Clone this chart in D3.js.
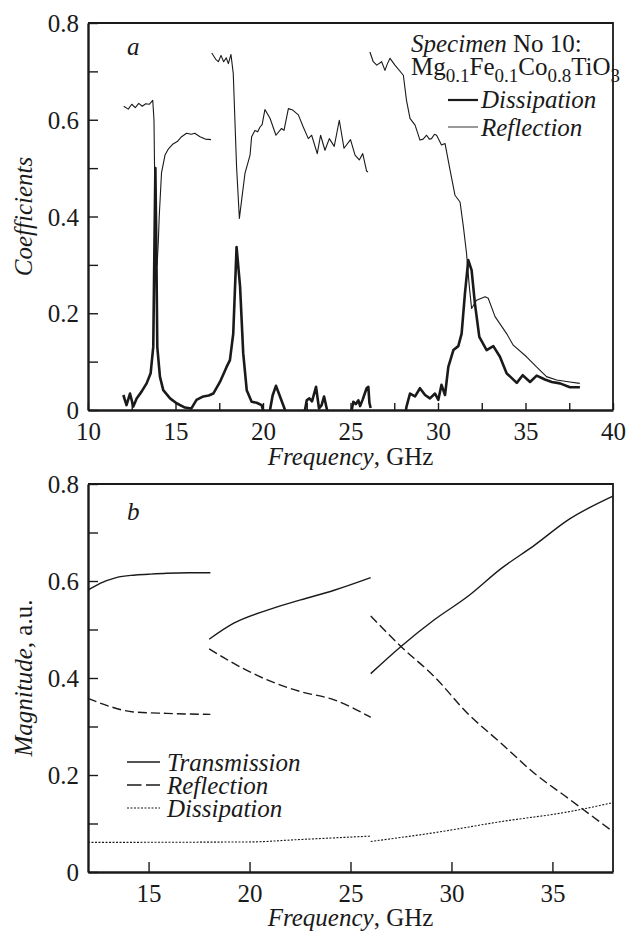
<!DOCTYPE html>
<html>
<head>
<meta charset="utf-8">
<title>Specimen No 10</title>
<script src="https://cdnjs.cloudflare.com/ajax/libs/d3/7.8.5/d3.min.js"></script>
<style>
  body { margin: 0; background: #fff; }
  svg, svg text { font-family: "Liberation Serif", "Times New Roman", Times, "DejaVu Serif", serif; }
  svg text { fill: #1a1a1a; }
</style>
</head>
<body>
<div id="chart"></div>
<script>
// ---- panel a: measured coefficients, [GHz, value] ----
const dissA1 = [[12.02,0.031],[12.2,0.01],[12.4,0.034],[12.59,0.007],[12.78,0.024],[13.06,0.038],[13.35,0.055],[13.58,0.076],[13.73,0.131],[13.8,0.35],[13.85,0.5],[13.9,0.35],[13.96,0.13],[14.11,0.069],[14.3,0.041],[14.69,0.024],[15.06,0.014],[15.54,0.005],[15.9,0.003],[16.2,0.021],[16.59,0.028],[16.9,0.03],[17.16,0.034],[17.54,0.058],[17.92,0.089],[18.11,0.103],[18.3,0.158],[18.49,0.337],[18.69,0.255],[18.87,0.117],[19.07,0.041],[19.35,0.017],[19.64,0.015],[19.92,0.01],[20.0,0]];
const dissA2 = [[20.4,0],[20.55,0.03],[20.74,0.05],[20.95,0.03],[21.26,0]];
const dissA3 = [[22.4,0],[22.5,0.02],[22.65,0.024],[22.8,0.018],[23.03,0.048],[23.2,0.003],[23.35,0.01],[23.49,0.028],[23.66,0]];
const dissA4 = [[25.07,0],[25.16,0.017],[25.3,0.012],[25.45,0.02],[25.55,0.008],[25.7,0.022],[25.92,0.045],[26.02,0.048],[26.08,0.015],[26.15,0.004]];
const dissA5 = [[28.17,0],[28.2,0.007],[28.4,0.034],[28.69,0.028],[28.97,0.045],[29.26,0.031],[29.54,0.024],[29.83,0.034],[30.02,0.021],[30.2,0.052],[30.4,0.031],[30.59,0.089],[30.88,0.124],[31.16,0.132],[31.35,0.158],[31.54,0.241],[31.73,0.31],[31.92,0.289],[32.11,0.22],[32.36,0.151],[32.78,0.124],[33.16,0.132],[33.54,0.11],[33.92,0.076],[34.5,0.056],[34.84,0.072],[35.26,0.058],[35.64,0.071],[36.11,0.063],[36.5,0.058],[36.97,0.055],[37.54,0.047],[38.11,0.047]];

const reflA1 = [[12.04,0.628],[12.3,0.622],[12.5,0.632],[12.7,0.625],[12.9,0.634],[13.1,0.628],[13.3,0.633],[13.5,0.632],[13.7,0.64],[13.77,0.6],[13.82,0.45],[13.88,0.33],[13.95,0.3],[14.02,0.35],[14.07,0.4],[14.2,0.49],[14.4,0.527],[14.6,0.54],[14.86,0.55],[15.1,0.555],[15.35,0.565],[15.63,0.572],[15.9,0.57],[16.1,0.572],[16.4,0.565],[16.7,0.56],[17.03,0.559]];
const reflA2 = [[17.07,0.738],[17.3,0.725],[17.45,0.72],[17.6,0.733],[17.75,0.72],[17.9,0.728],[18.02,0.716],[18.17,0.735],[18.3,0.696],[18.49,0.503],[18.65,0.396],[18.8,0.44],[18.97,0.489],[19.26,0.527],[19.35,0.565],[19.54,0.578],[19.7,0.575],[19.83,0.585],[19.95,0.59],[20.11,0.621],[20.4,0.603],[20.74,0.568],[21.06,0.582],[21.2,0.578],[21.45,0.623],[21.7,0.62],[22.02,0.61],[22.3,0.585],[22.59,0.561],[22.78,0.568],[23.1,0.53],[23.29,0.568],[23.54,0.537],[23.79,0.561],[24.07,0.545],[24.36,0.599],[24.63,0.541],[25.0,0.559],[25.26,0.527],[25.5,0.517],[25.7,0.53],[25.92,0.494],[26.0,0.492]];
const reflA3 = [[26.11,0.74],[26.3,0.72],[26.5,0.713],[26.78,0.72],[26.97,0.702],[27.1,0.715],[27.26,0.727],[27.54,0.713],[28.02,0.692],[28.2,0.64],[28.4,0.603],[28.69,0.589],[28.97,0.558],[29.15,0.56],[29.35,0.568],[29.5,0.56],[29.63,0.561],[29.8,0.57],[29.92,0.568],[30.2,0.548],[30.4,0.551],[30.69,0.496],[30.97,0.444],[31.26,0.43],[31.45,0.379],[31.63,0.324],[31.79,0.255],[31.92,0.21],[32.2,0.227],[32.69,0.234],[32.87,0.231],[33.26,0.193],[33.92,0.158],[34.3,0.134],[35.06,0.11],[35.63,0.089],[36.2,0.069],[36.78,0.062],[37.54,0.058],[38.1,0.055]];

// ---- panel b: calculated magnitudes ----
const transB1 = [[12,0.581],[12.6,0.595],[13.4,0.607],[14.25,0.612],[15,0.614],[15.9,0.616],[17,0.617],[18.06,0.617]];
const transB2 = [[18,0.48],[19.22,0.513],[20.88,0.54],[22.53,0.561],[24.19,0.581],[26,0.607]];
const transB3 = [[26,0.409],[27.5,0.465],[29.15,0.52],[30.8,0.568],[32.47,0.626],[34.12,0.674],[35.78,0.726],[38,0.775]];
const reflB1 = [[12,0.358],[13.1,0.341],[14.25,0.33],[15.9,0.327],[18.06,0.325]];
const reflB2 = [[18,0.46],[19.22,0.43],[20.88,0.396],[22.53,0.372],[24.19,0.355],[26,0.319]];
const reflB3 = [[26,0.528],[27.5,0.465],[29.15,0.403],[30.8,0.327],[32.47,0.265],[34.12,0.203],[35.78,0.152],[38,0.083]];
const dissB1 = [[12,0.061],[20,0.062],[22.5,0.067],[26,0.074]];
const dissB2 = [[26,0.063],[29.15,0.081],[32.47,0.104],[35.78,0.124],[38,0.143]];

const xTicksA = d3.range(10, 40.01, 2.5);
const xTicksB = [15, 20, 25, 30, 35];
const yTicks = d3.range(0, 0.801, 0.1);

const W = 637, H = 932;
const FS = 25;
const FONT = "'Liberation Serif', 'Times New Roman', Times, serif";
const ink = "#1a1a1a";

const svg = d3.select("#chart").append("svg")
    .attr("width", W).attr("height", H)
    .attr("font-family", FONT);

function yFmt(d) {
    const k = Math.round(d * 10);
    if (k % 2) return "";
    return k === 0 ? "0" : (k / 10).toFixed(1);
}

function txt(g, x, y) {
    return g.append("text").attr("x", x).attr("y", y)
        .attr("font-family", FONT).attr("font-size", FS);
}

function panel(x, y, xTicks, xFmt, xTickLen) {
    const g = svg.append("g");
    const [x0, x1] = x.range();
    const [y0, y1] = y.range();

    // frame (top + right)
    g.append("path")
        .attr("d", `M${x0},${y1}H${x1}V${y0}`)
        .attr("fill", "none").attr("stroke", ink).attr("stroke-width", 1.8);

    const ax = g.append("g")
        .attr("transform", `translate(0,${y0})`)
        .call(d3.axisBottom(x).tickValues(xTicks).tickFormat(xFmt)
            .tickSizeInner(-xTickLen).tickSizeOuter(0).tickPadding(12));
    const ay = g.append("g")
        .attr("transform", `translate(${x0},0)`)
        .call(d3.axisLeft(y).tickValues(yTicks).tickFormat(yFmt)
            .tickSizeInner(-10).tickSizeOuter(0).tickPadding(9));

    [ax, ay].forEach(a => {
        a.attr("font-family", FONT).attr("font-size", FS);
        a.select(".domain").attr("stroke", ink).attr("stroke-width", 2.4);
        a.selectAll(".tick line").attr("stroke", ink).attr("stroke-width", 1.4);
        a.selectAll(".tick text").attr("fill", ink);
    });
    ay.selectAll(".tick text").attr("dy", "0.34em");
    return g;
}

function addLine(g, x, y, data, w, dash, curve) {
    const line = d3.line()
        .x(d => x(d[0])).y(d => y(d[1]))
        .curve(curve || d3.curveLinear);
    g.append("path")
        .datum(data)
        .attr("d", line)
        .attr("fill", "none")
        .attr("stroke", ink)
        .attr("stroke-width", w)
        .attr("stroke-linejoin", "round")
        .attr("stroke-dasharray", dash || null);
}

// ===== panel a =====
const xA = d3.scaleLinear().domain([10, 40]).range([88, 613]);
const yA = d3.scaleLinear().domain([0, 0.8]).range([410, 23]);
const gA = panel(xA, yA, xTicksA, d => d % 5 === 0 ? d : "", 7);

[reflA1, reflA2, reflA3].forEach(s => addLine(gA, xA, yA, s, 1.1));
[dissA1, dissA2, dissA3, dissA4, dissA5].forEach(s => addLine(gA, xA, yA, s, 2.6));

txt(gA, 127, 55).attr("font-style", "italic").text("a");

// legend a
const t1 = txt(gA, 411, 52);
t1.append("tspan").attr("font-style", "italic").text("Specimen");
t1.append("tspan").text(" No 10:");
const t2 = txt(gA, 411, 75);
[["Mg", "0.1"], ["Fe", "0.1"], ["Co", "0.8"], ["TiO", "3"]].forEach(([el, sub], i) => {
    t2.append("tspan").attr("dy", i === 0 ? 0 : -7).text(el);
    t2.append("tspan").attr("dy", 7).attr("font-size", 19).text(sub);
});
gA.append("line").attr("x1", 448).attr("x2", 478).attr("y1", 100).attr("y2", 100)
    .attr("stroke", ink).attr("stroke-width", 2.2);
txt(gA, 481, 108).attr("font-style", "italic").text("Dissipation");
gA.append("line").attr("x1", 448).attr("x2", 478).attr("y1", 127).attr("y2", 127)
    .attr("stroke", "#555").attr("stroke-width", 1.2);
txt(gA, 481, 136).attr("font-style", "italic").text("Reflection");

// axis titles a
const xtA = txt(gA, 350.5, 465).attr("text-anchor", "middle");
xtA.append("tspan").attr("font-style", "italic").text("Frequency");
xtA.append("tspan").text(", GHz");
txt(gA, 0, 0).attr("transform", "translate(32,216.5) rotate(-90)")
    .attr("text-anchor", "middle").attr("font-style", "italic").text("Coefficients");

// ===== panel b =====
const xB = d3.scaleLinear().domain([12, 38]).range([88, 613]);
const yB = d3.scaleLinear().domain([0, 0.8]).range([872, 484]);
const gB = panel(xB, yB, xTicksB, d => d, 10);

const smooth = d3.curveMonotoneX;
[transB1, transB2, transB3].forEach(s => addLine(gB, xB, yB, s, 1.4, null, smooth));
[reflB1, reflB2, reflB3].forEach(s => addLine(gB, xB, yB, s, 1.4, "9,4", smooth));
[dissB1, dissB2].forEach(s => addLine(gB, xB, yB, s, 1.1, "2,1.5", smooth));

txt(gB, 127, 520).attr("font-style", "italic").text("b");

// legend b
const itemsB = [
    { label: "Transmission", y: 762, dash: null, w: 1.4 },
    { label: "Reflection", y: 785, dash: "14.5,4.5", w: 1.4 },
    { label: "Dissipation", y: 808, dash: "2,1.5", w: 1.1 }
];
itemsB.forEach(it => {
    gB.append("line").attr("x1", 127).attr("x2", 160).attr("y1", it.y).attr("y2", it.y)
        .attr("stroke", ink).attr("stroke-width", it.w).attr("stroke-dasharray", it.dash);
    txt(gB, 167, it.y + 8.5).attr("font-style", "italic").text(it.label);
});

const xtB = txt(gB, 350.5, 926).attr("text-anchor", "middle");
xtB.append("tspan").attr("font-style", "italic").text("Frequency");
xtB.append("tspan").text(", GHz");
const ytB = txt(gB, 0, 0).attr("transform", "translate(32,678) rotate(-90)")
    .attr("text-anchor", "middle");
ytB.append("tspan").attr("font-style", "italic").text("Magnitude");
ytB.append("tspan").text(", a.u.");
</script>
</body>
</html>
